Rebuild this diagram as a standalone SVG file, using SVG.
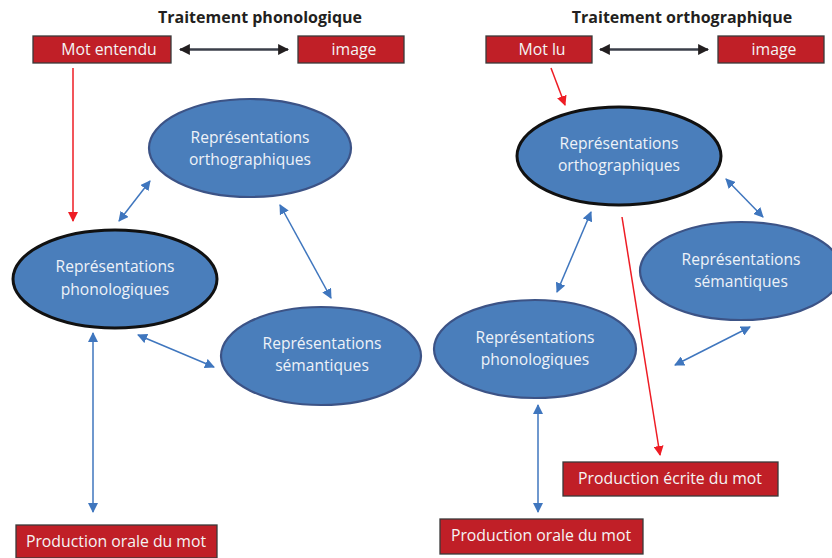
<svg xmlns="http://www.w3.org/2000/svg" width="832" height="558" viewBox="0 0 832 558">
<style>
.title{font-family:"Open Sans","Liberation Sans",sans-serif;font-weight:bold;font-size:16px;fill:#231f20;text-anchor:middle}
.box{fill:#c01f27;stroke:#3a3a3a;stroke-width:1.3}
.btxt{font-family:"Open Sans","Liberation Sans",sans-serif;font-size:15.8px;fill:#f4f4f4;text-anchor:middle}
.ell{fill:#4a7ebb;stroke:#3c5386;stroke-width:2.2}
.ellb{fill:#4a7ebb;stroke:#111;stroke-width:3}
.etxt{font-family:"Open Sans","Liberation Sans",sans-serif;font-size:15.6px;fill:#eef2f8;text-anchor:middle}
.blue{stroke:#3f76be;stroke-width:1.5;fill:none;marker-start:url(#hb);marker-end:url(#hb)}
.red{stroke:#ee1c24;stroke-width:1.5;fill:none;marker-end:url(#hr)}
.black{stroke:#3b3f4a;stroke-width:2.5;fill:none;marker-start:url(#hk);marker-end:url(#hk)}
</style>
<defs>
<marker id="hb" viewBox="0 0 10 10" refX="9" refY="5" markerWidth="10" markerHeight="10" markerUnits="userSpaceOnUse" orient="auto-start-reverse"><path d="M0,0 L10,5 L0,10 z" fill="#3f76be"/></marker>
<marker id="hr" viewBox="0 0 10 10" refX="9" refY="5" markerWidth="10" markerHeight="10" markerUnits="userSpaceOnUse" orient="auto-start-reverse"><path d="M0,0 L10,5 L0,10 z" fill="#ee1c24"/></marker>
<marker id="hk" viewBox="0 0 10 10" refX="9" refY="5" markerWidth="11" markerHeight="12" markerUnits="userSpaceOnUse" orient="auto-start-reverse"><path d="M0,0 L10,5 L0,10 z" fill="#231f20"/></marker>
</defs>
<rect width="832" height="558" fill="#fff"/>
<text class="title" x="260" y="23">Traitement phonologique</text>
<text class="title" x="682" y="23">Traitement orthographique</text>

<g id="connectors">
<line class="black" x1="180" y1="49.5" x2="288" y2="49.5"/>
<line class="black" x1="600" y1="49.5" x2="708" y2="49.5"/>
<line class="red" x1="73" y1="68" x2="73" y2="221"/>
<line class="red" x1="551" y1="68" x2="565" y2="105"/>
<line class="red" x1="622" y1="217" x2="660" y2="455"/>
<line class="blue" x1="150" y1="181" x2="119" y2="221"/>
<line class="blue" x1="280" y1="205" x2="331" y2="298"/>
<line class="blue" x1="138" y1="335" x2="214" y2="367"/>
<line class="blue" x1="93" y1="333" x2="93" y2="512"/>
<line class="blue" x1="591" y1="212" x2="557" y2="292"/>
<line class="blue" x1="726" y1="179" x2="763" y2="217"/>
<line class="blue" x1="750" y1="327" x2="675" y2="365"/>
<line class="blue" x1="538" y1="405" x2="538" y2="512"/>
</g>

<g id="mot-entendu"><rect class="box" x="33" y="36" width="138" height="27"/><text class="btxt" x="109" y="55">Mot entendu</text></g>
<g id="image-left"><rect class="box" x="298" y="36" width="106" height="27"/><text class="btxt" x="354" y="55">image</text></g>
<g id="mot-lu"><rect class="box" x="486" y="36" width="106" height="27"/><text class="btxt" x="542" y="55">Mot lu</text></g>
<g id="image-right"><rect class="box" x="718" y="36" width="106" height="27"/><text class="btxt" x="774" y="55">image</text></g>

<g id="ortho-left"><ellipse class="ell" cx="250" cy="148" rx="101" ry="49"/><text class="etxt" x="250" y="143">Représentations</text><text class="etxt" x="250" y="165">orthographiques</text></g>
<g id="phono-left"><ellipse class="ellb" cx="115" cy="279" rx="102" ry="49"/><text class="etxt" x="115" y="272">Représentations</text><text class="etxt" x="115" y="295">phonologiques</text></g>
<g id="sem-left"><ellipse class="ell" cx="321" cy="356" rx="100" ry="49"/><text class="etxt" x="322" y="349">Représentations</text><text class="etxt" x="322" y="371">sémantiques</text></g>

<g id="ortho-right"><ellipse class="ellb" cx="619" cy="156" rx="102" ry="49"/><text class="etxt" x="619" y="149">Représentations</text><text class="etxt" x="619" y="171">orthographiques</text></g>
<g id="sem-right"><ellipse class="ell" cx="741" cy="271" rx="101" ry="49"/><text class="etxt" x="741" y="265">Représentations</text><text class="etxt" x="741" y="287">sémantiques</text></g>
<g id="phono-right"><ellipse class="ell" cx="535" cy="349" rx="101" ry="49"/><text class="etxt" x="535" y="343">Représentations</text><text class="etxt" x="535" y="365">phonologiques</text></g>

<g id="prod-orale-left"><rect class="box" x="16" y="525" width="201" height="33"/><text class="btxt" x="116" y="547">Production orale du mot</text></g>
<g id="prod-ecrite"><rect class="box" x="563" y="462" width="215" height="34"/><text class="btxt" x="670" y="484">Production écrite du mot</text></g>
<g id="prod-orale-right"><rect class="box" x="440" y="519" width="203" height="35"/><text class="btxt" x="541" y="541">Production orale du mot</text></g>
</svg>
